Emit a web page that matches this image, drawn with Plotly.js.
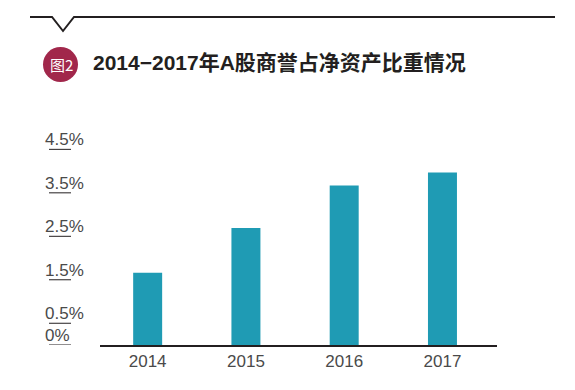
<!DOCTYPE html>
<html>
<head>
<meta charset="utf-8">
<script src="https://cdn.plot.ly/plotly-3.0.1.min.js"></script>
<style>html,body{margin:0;padding:0;background:#fff;}#chart{width:575px;height:390px;}</style>
</head>
<body>
<div id="chart"></div>
<script>
// ---- data ----
const years = ['2014', '2015', '2016', '2017'];
const goodwillRatio = [1.66, 2.69, 3.67, 3.97];
const yTickVals = [0, 0.5, 1.5, 2.5, 3.5, 4.5];
const yTickText = ['0%', '0.5%', '1.5%', '2.5%', '3.5%', '4.5%'];
const titleText = '2014\u22122017年A股商誉占净资产比重情况';
const badgeText = '图2';

// ---- layout geometry (pixels) ----
const W = 575, H = 390;
const M = {l: 100, r: 78, t: 145, b: 45};
const PW = W - M.l - M.r, PH = H - M.t - M.b;
const px = x => (x - M.l) / PW;          // pixel x -> paper x
const py = y => (H - M.b - y) / PH;      // pixel y -> paper y

const shapes = [];
const annotations = [];

// header line with notch
shapes.push({
  type: 'path', xref: 'paper', yref: 'paper',
  path: `M ${px(30)} ${py(17)} L ${px(52)} ${py(17)} L ${px(63)} ${py(31)} L ${px(74)} ${py(17)} L ${px(555)} ${py(17)}`,
  line: {color: '#231f20', width: 2}
});
// badge circle
shapes.push({
  type: 'circle', xref: 'paper', yref: 'paper',
  x0: px(43), x1: px(78), y0: py(82), y1: py(47),
  fillcolor: '#a1274b', line: {width: 0}
});
annotations.push({
  xref: 'paper', yref: 'paper', x: px(61), y: py(64.5),
  xanchor: 'center', yanchor: 'middle', showarrow: false,
  text: badgeText, font: {family: 'Noto Sans CJK SC', size: 15, color: '#ffffff'}
});
annotations.push({
  xref: 'paper', yref: 'paper', x: px(91), y: py(62),
  xanchor: 'left', yanchor: 'middle', showarrow: false,
  text: '<b>' + titleText + '</b>',
  font: {family: 'Liberation Sans, Noto Sans CJK SC', size: 21, color: '#231f20'}
});

// y tick labels (left aligned, sitting on an underline)
yTickVals.forEach((v, i) => {
  annotations.push({
    xref: 'paper', yref: 'y', x: px(43), y: v,
    xanchor: 'left', yanchor: 'bottom', yshift: -2, showarrow: false,
    text: yTickText[i],
    font: {family: 'Liberation Sans', size: 17, color: '#4a4a4a'}
  });
  shapes.push({
    type: 'line', xref: 'paper', yref: 'y',
    x0: px(49), x1: px(71), y0: v, y1: v,
    line: {color: '#231f20', width: 1}
  });
});

const trace = {
  type: 'bar', x: years, y: goodwillRatio,
  marker: {color: '#1f9bb4', line: {width: 0}},
  width: 0.295, hoverinfo: 'none'
};

const layout = {
  width: W, height: H,
  margin: M,
  paper_bgcolor: '#ffffff', plot_bgcolor: '#ffffff',
  showlegend: false,
  xaxis: {
    type: 'category', range: [-0.485, 3.555],
    showline: true, linecolor: '#231f20', linewidth: 1.5,
    ticks: '', showgrid: false, zeroline: false,
    tickfont: {family: 'Liberation Sans', size: 17, color: '#4a4a4a'}
  },
  yaxis: {
    range: [0, 4.6], showgrid: false, zeroline: false,
    showticklabels: false, ticks: '', showline: false
  },
  shapes: shapes,
  annotations: annotations
};

Plotly.newPlot('chart', [trace], layout, {staticPlot: true});
</script>
</body>
</html>
